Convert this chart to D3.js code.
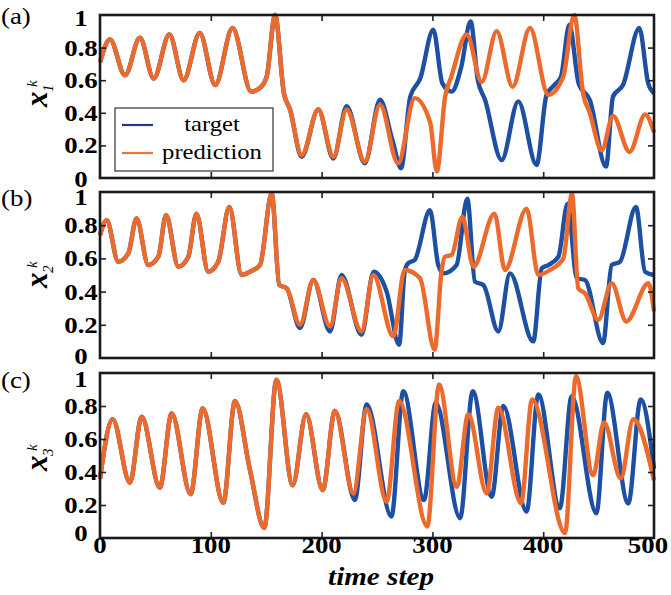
<!DOCTYPE html>
<html>
<head>
<meta charset="utf-8">
<script src="https://cdn.jsdelivr.net/npm/d3@7"></script>
<style>
  body { margin: 0; background: #fff; }
  svg { display: block; }
  text { font-family: "Liberation Serif", "Times New Roman", serif; }
</style>
</head>
<body>
<svg id="chart"></svg>
<script>
// ---- data: [time step, value] ----
const xTicks = [0, 100, 200, 300, 400, 500];
const yTicks = [0, 0.2, 0.4, 0.6, 0.8, 1];
const yTickLabels = ["0", "0.2", "0.4", "0.6", "0.8", "1"];
const seriesNames = ["target", "prediction"];
const panelNames = ["(a)", "(b)", "(c)"];

// panel (a) x1
const x1Common = [[0,0.71],[9,0.85],[22.6,0.63],[36,0.86],[48.5,0.61],[62.6,0.88],[75.5,0.60],[90,0.89],
  [104,0.57],[119.6,0.92],[136.5,0.53],[144,0.55],[150.4,0.62],[158,1.0],[166,0.52],[171.5,0.42]];
const x1Target = [[182,0.13],[197,0.42],[210.6,0.12],[222.6,0.44],[239,0.09],[252.7,0.48],[264,0.23],
  [271.7,0.06],[280,0.50],[289,0.61],[300.8,0.91],[309,0.58],[317.4,0.53],[326,0.68],[334.5,0.96],
  [341,0.60],[347.5,0.48],[362.5,0.11],[377.5,0.47],[394,0.08],[403,0.51],[410,0.57],[416,0.62],
  [423.6,0.94],[432,0.58],[442,0.48],[456.7,0.07],[463,0.50],[472,0.57],[486.7,0.92],[494.8,0.58],[500,0.52]];
const x1Pred = [[182,0.14],[197,0.42],[210.6,0.13],[222.6,0.42],[239,0.10],[252.7,0.45],[269,0.09],
  [284,0.49],[298,0.34],[304,0.04],[311.5,0.50],[317,0.62],[331,0.88],[344.5,0.59],[358,0.90],
  [372.4,0.56],[388,0.92],[404.6,0.51],[418,0.62],[428,1.0],[436,0.52],[442,0.40],[452.8,0.17],
  [463,0.38],[478,0.16],[492,0.39],[500,0.28]];

// panel (b) x2
const x2Common = [[0,0.74],[6,0.83],[16.5,0.58],[25.5,0.63],[33,0.84],[43.6,0.56],[52.6,0.61],[59.6,0.86],
  [70.7,0.55],[79.7,0.61],[87,0.87],[97.7,0.52],[106.7,0.58],[116.7,0.91],[127.9,0.50],[135.4,0.52],
  [144.4,0.56],[155,0.99],[161.8,0.44],[168.5,0.42]];
const x2Target = [[180.5,0.18],[192.5,0.47],[207.6,0.16],[218,0.50],[236,0.14],[247,0.52],[258.7,0.40],
  [270,0.08],[275,0.52],[278,0.57],[284,0.59],[297.8,0.89],[305.3,0.56],[310,0.51],[321.8,0.56],
  [331.5,0.96],[338.4,0.46],[346,0.44],[359.5,0.16],[370,0.51],[391,0.10],[398.7,0.54],[404.6,0.56],
  [413.7,0.61],[422,0.93],[430.3,0.48],[437.7,0.47],[454,0.09],[461.8,0.56],[469.3,0.58],[483.7,0.91],
  [491.9,0.52],[500,0.50]];
const x2Pred = [[180.5,0.20],[192.5,0.47],[207.6,0.19],[218,0.48],[236,0.16],[246.7,0.50],[264.7,0.13],
  [275,0.53],[288.8,0.48],[302,0.05],[308.2,0.52],[311.2,0.61],[317.3,0.62],[327,0.85],[337,0.55],
  [356,0.87],[365.5,0.53],[385,0.90],[395.6,0.50],[406.1,0.53],[418.2,0.60],[426,0.99],[431.6,0.42],
  [437.7,0.39],[449.7,0.23],[461.8,0.45],[475,0.22],[495,0.45],[500,0.28]];

// panel (c) x3
const x3Common = [[0,0.36],[11.4,0.72],[27,0.335],[37.6,0.735],[54,0.305],[64.7,0.755],[81.8,0.265],
  [92.7,0.785],[111.3,0.214],[121.8,0.83],[135.4,0.41],[148.3,0.06],[159.2,0.96],[173.9,0.32],
  [186,0.75],[201,0.29],[212,0.77]];
const x3Target = [[230,0.23],[240.7,0.81],[263,0.13],[273.7,0.89],[292.4,0.23],[303,0.82],[325,0.12],
  [336.4,0.89],[353.5,0.25],[364,0.80],[385,0.16],[395.6,0.87],[415,0.18],[425.7,0.86],[448,0.15],
  [457.8,0.88],[476.8,0.21],[488,0.84],[500,0.42]];
const x3Pred = [[228.6,0.27],[240.7,0.78],[258.7,0.22],[270,0.83],[295.4,0.07],[306,0.93],[322,0.31],
  [332.4,0.75],[349,0.27],[359.5,0.79],[380,0.21],[390,0.84],[419.7,0.03],[429.6,0.98],[445,0.38],
  [454.9,0.70],[470,0.36],[481.3,0.72],[500,0.35]];

const width = 671;
const height = 595;
const left = 100, right = 654;
const blue = "#1d4fa2", orange = "#ec6a2c";
const stretch = 1.12; // the figure's text is a bit wide

const panels = [
  { top: 15,  bottom: 178, sub: "1", target: x1Common.concat(x1Target), pred: x1Common.concat(x1Pred),
    tagY: 24,  labY: 107, shift0: 1, shift1: 3 },
  { top: 192, bottom: 358, sub: "2", target: x2Common.concat(x2Target), pred: x2Common.concat(x2Pred),
    tagY: 206, labY: 288, shift0: -2, shift1: 5 },
  { top: 373, bottom: 538, sub: "3", target: x3Common.concat(x3Target), pred: x3Common.concat(x3Pred),
    tagY: 388, labY: 471, shift0: -5, shift1: 6 }
];

const svg = d3.select("#chart").attr("width", width).attr("height", height);
svg.append("rect").attr("width", width).attr("height", height).attr("fill", "#fff");

const x = d3.scaleLinear().domain([0, 500]).range([left, right]);

// text helper, stretched horizontally around its anchor point
const label = (g, px, py, str, size, weight, style, anchor) =>
  g.append("text")
    .attr("transform", `translate(${px},${py}) scale(${stretch},1)`)
    .attr("text-anchor", anchor || "middle")
    .attr("font-size", size)
    .attr("font-weight", weight || "normal")
    .attr("font-style", style || "normal")
    .text(str);

panels.forEach((p, i) => {
  const y = d3.scaleLinear().domain([0, 1]).range([p.bottom, p.top]);
  const g = svg.append("g");

  const line = d3.line()
    .x((d) => x(d[0]))
    .y((d) => y(d[1]))
    .curve(d3.curveMonotoneX);

  g.append("path").datum(p.target)
    .attr("d", line).attr("fill", "none")
    .attr("stroke", blue).attr("stroke-width", 4.4).attr("stroke-linejoin", "round");
  g.append("path").datum(p.pred)
    .attr("d", line).attr("fill", "none")
    .attr("stroke", orange).attr("stroke-width", 4.4).attr("stroke-linejoin", "round");

  // inward ticks on all four sides
  const inner = yTicks.slice(1, -1);
  const innerX = xTicks.slice(1, -1);
  g.append("g").attr("transform", `translate(${left},0)`)
    .call(d3.axisLeft(y).tickValues(inner).tickSize(-6).tickFormat(""));
  g.append("g").attr("transform", `translate(${right},0)`)
    .call(d3.axisRight(y).tickValues(inner).tickSize(-6).tickFormat(""));
  g.append("g").attr("transform", `translate(0,${p.bottom})`)
    .call(d3.axisBottom(x).tickValues(innerX).tickSize(-6).tickFormat(""));
  g.append("g").attr("transform", `translate(0,${p.top})`)
    .call(d3.axisTop(x).tickValues(innerX).tickSize(-6).tickFormat(""));
  g.selectAll(".domain").remove();
  g.selectAll(".tick line").attr("stroke", "#222").attr("stroke-width", 1.6);

  // frame
  g.append("rect")
    .attr("x", left).attr("y", p.top)
    .attr("width", right - left).attr("height", p.bottom - p.top)
    .attr("fill", "none").attr("stroke", "#1a1a1a").attr("stroke-width", 2.6);

  // y tick labels (0 and 1 nudged like in the figure)
  yTicks.forEach((v, j) => {
    let dy = 8;
    if (v === 0) dy += p.shift0;
    if (v === 1) dy += p.shift1;
    label(g, 81, y(v) + dy, yTickLabels[j], 24, "bold");
  });

  // panel tag
  label(g, 1, p.tagY, panelNames[i], 24, "normal", "normal", "start");

  // y label x_i^k, rotated
  const yl = g.append("g").attr("transform", `translate(47,${p.labY}) rotate(-90)`);
  yl.append("text").attr("font-size", 31).attr("font-weight", "bold").attr("font-style", "italic").text("x");
  yl.append("text").attr("x", 15).attr("y", 6).attr("font-size", 15).attr("font-style", "italic").text(p.sub);
  yl.append("text").attr("x", 20).attr("y", -10).attr("font-size", 15).attr("font-style", "italic").text("k");

  if (i === 2) {
    // last label kept inside the picture, as in the figure
    xTicks.forEach((t) => label(g, Math.min(x(t), 648), 553, String(t), 24, "bold"));
    label(g, (left + right) / 2 + 4, 585, "time step", 26, "bold", "italic");
  }

  if (i === 0) {
    const lg = g.append("g");
    lg.append("rect").attr("x", 115).attr("y", 108).attr("width", 158).attr("height", 63)
      .attr("fill", "#fff").attr("stroke", "#333").attr("stroke-width", 1.2);
    const rows = [{ c: "#2b3290", yy: 125 }, { c: "#e8742e", yy: 153 }];
    rows.forEach((r, k) => {
      lg.append("line").attr("x1", 122).attr("x2", 153).attr("y1", r.yy).attr("y2", r.yy)
        .attr("stroke", r.c).attr("stroke-width", 2.2);
      label(lg, 212, r.yy + 6, seriesNames[k], 22);
    });
  }
});
</script>
</body>
</html>
